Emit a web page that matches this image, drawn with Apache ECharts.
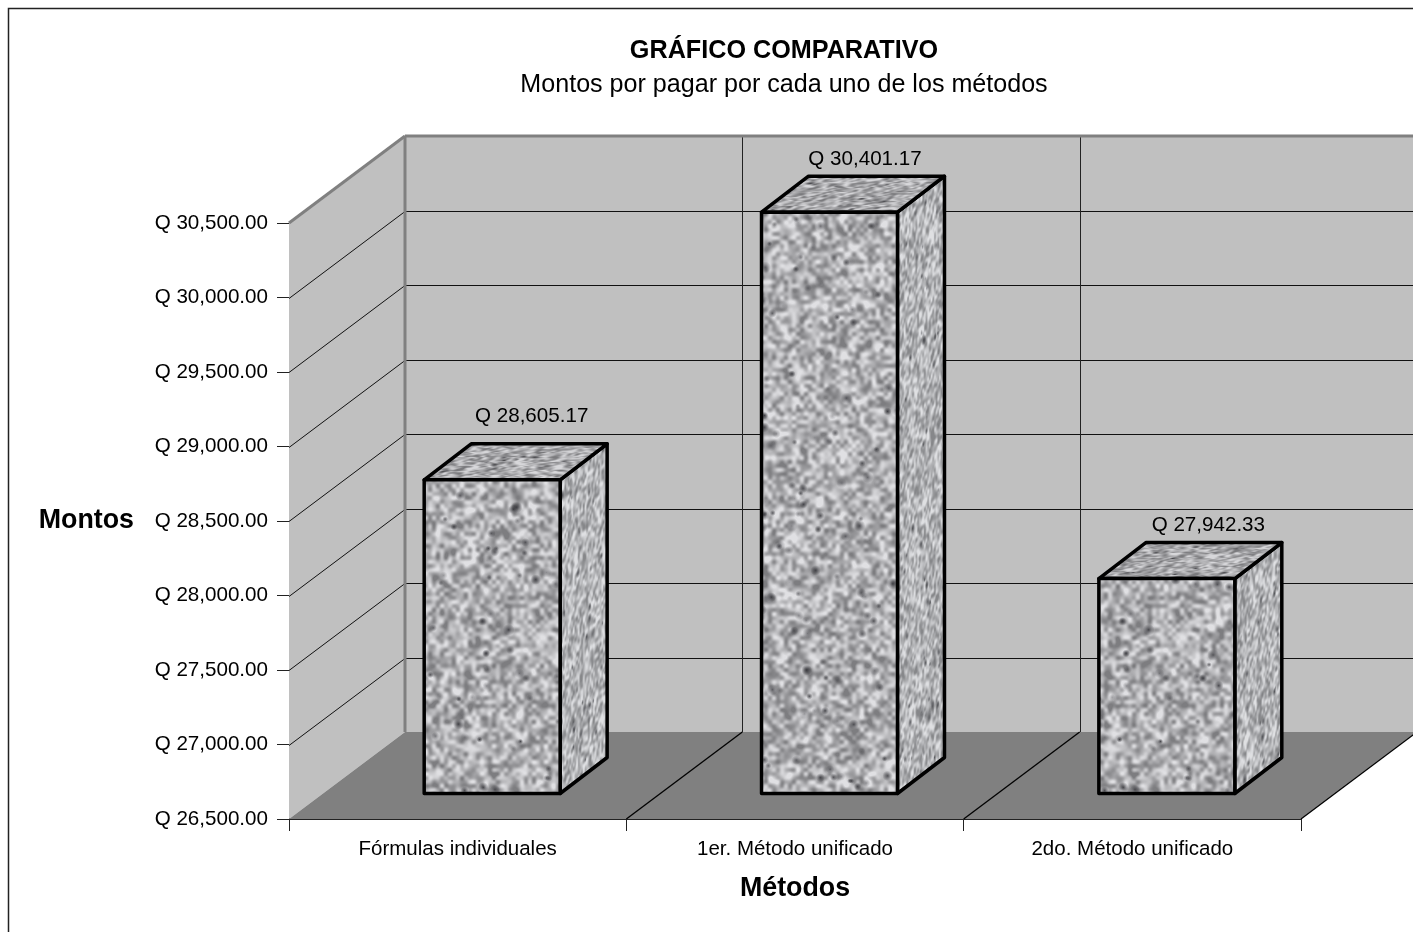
<!DOCTYPE html>
<html>
<head>
<meta charset="utf-8">
<style>html,body{margin:0;padding:0;background:#fff;overflow:hidden}#c{width:1413px;height:932px}</style>
<script src="https://cdn.jsdelivr.net/npm/echarts@6/dist/echarts.min.js"></script>
</head>
<body>
<div id="c"></div>
<script>
var categories = ['Fórmulas individuales', '1er. Método unificado', '2do. Método unificado'];
var montos = [28605.17, 30401.17, 27942.33];
var yTicks = [26500, 27000, 27500, 28000, 28500, 29000, 29500, 30000, 30500];
var titleText = 'GRÁFICO COMPARATIVO';
var subtitleText = 'Montos por pagar por cada uno de los métodos';
var yName = 'Montos';
var xName = 'Métodos';

var FONT = '"Liberation Sans", Arial, sans-serif';
var DX = 116, DY = 87;            // wall depth
var BAR_W = 0.403, BAR_DX = 47, BAR_DY = 36; // bar width (band share) and depth
var LABEL_NUDGE = [[4, -11], [0, 0], [6, 0]];

function money(v) {
  return 'Q ' + v.toLocaleString('en-US', {minimumFractionDigits: 2, maximumFractionDigits: 2});
}

/* granite texture: deterministic, seamless speckle */
var seed = 12345;
function rnd() { seed = (seed * 1664525 + 1013904223) >>> 0; return seed / 4294967296; }
function noiseLayer(target, cell, S, alpha) {
  var n = Math.round(S / cell), pad = 2, m = n + 2 * pad;
  var vals = [], i;
  for (i = 0; i < n * n; i++) vals.push(Math.floor(rnd() * 256));
  var s = document.createElement('canvas');
  s.width = s.height = m;
  var sc = s.getContext('2d'), im = sc.createImageData(m, m);
  for (var yy = 0; yy < m; yy++) {
    for (var xx = 0; xx < m; xx++) {
      var g = vals[((yy - pad + n) % n) * n + ((xx - pad + n) % n)], p = (yy * m + xx) * 4;
      im.data[p] = im.data[p + 1] = im.data[p + 2] = g;
      im.data[p + 3] = 255;
    }
  }
  sc.putImageData(im, 0, 0);
  target.globalAlpha = alpha;
  target.drawImage(s, -pad * cell, -pad * cell, m * cell, m * cell);
  target.globalAlpha = 1;
}
function buildBase() {
  var S = 640, c = document.createElement('canvas');
  c.width = c.height = S;
  var x = c.getContext('2d');
  x.imageSmoothingEnabled = true;
  x.imageSmoothingQuality = 'high';
  noiseLayer(x, 4, S, 1);
  noiseLayer(x, 8, S, 0.25);
  var im = x.getImageData(0, 0, S, S), d = im.data;
  for (var i = 0; i < d.length; i += 4) {
    var v = 176 + (d[i] - 128) * 0.62;
    v = Math.max(125, Math.min(224, v));
    d[i] = v; d[i + 1] = v; d[i + 2] = Math.min(255, v + 3);
  }
  x.putImageData(im, 0, 0);
  for (var k = 0; k < 620; k++) {
    var r = 2.5 + rnd() * 3.5, px = r + rnd() * (S - 2 * r), py = r + rnd() * (S - 2 * r), a = 0.25 + rnd() * 0.6;
    var g = x.createRadialGradient(px, py, 0, px, py, r);
    g.addColorStop(0, 'rgba(45,45,50,' + a + ')');
    g.addColorStop(1, 'rgba(45,45,50,0)');
    x.fillStyle = g;
    x.fillRect(px - r, py - r, 2 * r, 2 * r);
  }
  return c;
}
function warp(base, a, b, c2, d, tint) {
  var c = document.createElement('canvas');
  c.width = 1413; c.height = 932;
  var x = c.getContext('2d');
  x.setTransform(a, b, c2, d, 0, 0);
  x.fillStyle = x.createPattern(base, 'repeat');
  x.fillRect(-6000, -6000, 14000, 14000);
  if (tint) {
    x.setTransform(1, 0, 0, 1, 0, 0);
    x.fillStyle = tint;
    x.fillRect(0, 0, 1413, 932);
  }
  return c;
}
var base = buildBase();
var texFront = warp(base, 1, 0, 0, 1);
var texSide = warp(base, 0.42, -0.32, 0, 1, 'rgba(215,225,225,0.10)');
var texTop = warp(base, 1, 0, -0.42, 0.32, 'rgba(90,90,90,0.06)');

function poly(pts, style) {
  return {type: 'polygon', shape: {points: pts}, style: style, silent: true};
}
function line(x1, y1, x2, y2, style) {
  return {type: 'line', shape: {x1: x1, y1: y1, x2: x2, y2: y2}, style: style, silent: true};
}

function renderWalls(params, api) {
  var cs = params.coordSys, L = cs.x, T = cs.y, R = cs.x + cs.width, B = cs.y + cs.height;
  var kids = [];
  kids.push(poly([[L, T], [L + DX, T - DY], [L + DX, B - DY], [L, B]], {fill: '#c0c0c0'}));
  kids.push(poly([[L + DX, T - DY], [R + DX, T - DY], [R + DX, B - DY], [L + DX, B - DY]], {fill: '#c0c0c0'}));
  kids.push(poly([[L, B], [R, B], [R + DX, B - DY], [L + DX, B - DY]], {fill: '#808080'}));
  yTicks.forEach(function (v, i) {
    if (i === 0 || i === yTicks.length - 1) return;
    var y = Math.round(api.coord([0, v])[1]) + 0.5;
    kids.push(line(L, y, L + DX, y - DY, {stroke: '#111', lineWidth: 1}));
    kids.push(line(L + DX, y - DY, R + DX, y - DY, {stroke: '#111', lineWidth: 1}));
  });
  var band = api.size([1, 0])[0];
  for (var i = 1; i <= categories.length; i++) {
    var x = L + band * i;
    if (i < categories.length) {
      var vx = Math.round(x + DX) + 0.5;
      kids.push(line(vx, T - DY, vx, B - DY, {stroke: '#222', lineWidth: 1}));
    }
    kids.push(line(x, B, x + DX, B - DY, {stroke: '#000', lineWidth: 1.3}));
  }
  var edge = {stroke: '#808080', lineWidth: 3, lineCap: 'butt'};
  kids.push(line(L, T, L + DX, T - DY, edge));
  kids.push(line(L + DX, T - DY, R + DX, T - DY, edge));
  kids.push(line(L + DX, T - DY, L + DX, B - DY, edge));
  return {type: 'group', children: kids, silent: true};
}

function renderBar(params, api) {
  var i = api.value(0), v = api.value(1);
  var c = api.coord([i, v]), y0 = api.coord([i, yTicks[0]])[1];
  var w = api.size([1, 0])[0] * BAR_W;
  var ox = (DX - BAR_DX) / 2, oy = (DY - BAR_DY) / 2;
  var x1 = c[0] - w / 2 + ox, x2 = x1 + w, yb = y0 - oy, yt = c[1] - oy;
  function face(tex) {
    return {fill: {image: tex, repeat: 'repeat'}, stroke: '#000', lineWidth: 3.5, lineJoin: 'round'};
  }
  var nudge = LABEL_NUDGE[i];
  return {type: 'group', silent: true, children: [
    poly([[x2, yb], [x2 + BAR_DX, yb - BAR_DY], [x2 + BAR_DX, yt - BAR_DY], [x2, yt]], face(texSide)),
    poly([[x1, yt], [x2, yt], [x2 + BAR_DX, yt - BAR_DY], [x1 + BAR_DX, yt - BAR_DY]], face(texTop)),
    poly([[x1, yb], [x2, yb], [x2, yt], [x1, yt]], face(texFront)),
    {type: 'text', silent: true, style: {
      x: (x1 + x2 + BAR_DX) / 2 + 12 + nudge[0], y: yt - BAR_DY - 17 + nudge[1],
      text: money(v), fill: '#000', font: '20.6px ' + FONT, textAlign: 'center', textVerticalAlign: 'middle'
    }}
  ]};
}

var chart = echarts.init(document.getElementById('c'), null, {renderer: 'canvas', width: 1413, height: 932});
var axisLine = {show: true, lineStyle: {color: '#222', width: 1}};
chart.setOption({
  animation: false,
  backgroundColor: '#fff',
  title: [
    {text: titleText, left: 779, top: 34, textAlign: 'center', textStyle: {fontFamily: FONT, fontSize: 25.2, fontWeight: 'bold', color: '#000'}},
    {text: subtitleText, left: 779, top: 68, textAlign: 'center', textStyle: {fontFamily: FONT, fontSize: 25.1, fontWeight: 'normal', color: '#000'}}
  ],
  grid: {left: 289, right: 112, top: 223, bottom: 113, containLabel: false, outerBoundsMode: 'none'},
  xAxis: {
    type: 'category', data: categories,
    axisLine: axisLine,
    axisTick: {show: true, alignWithLabel: false, length: 12, lineStyle: {color: '#222'}},
    axisLabel: {color: '#000', fontFamily: FONT, fontSize: 20.5, margin: 20, interval: 0},
    splitLine: {show: false},
    name: xName, nameLocation: 'middle', nameGap: 56,
    nameTextStyle: {color: '#000', fontFamily: FONT, fontSize: 26.8, fontWeight: 'bold'}
  },
  yAxis: {
    type: 'value', min: yTicks[0], max: yTicks[yTicks.length - 1], interval: 500,
    axisLine: axisLine,
    axisTick: {show: true, length: 12, lineStyle: {color: '#222'}},
    axisLabel: {color: '#000', fontFamily: FONT, fontSize: 20.6, margin: 21, padding: [7, 0, 0, 0], formatter: money},
    splitLine: {show: false},
    name: yName, nameLocation: 'middle', nameRotate: 0, nameGap: 155,
    nameTextStyle: {color: '#000', fontFamily: FONT, fontSize: 26.8, fontWeight: 'bold', padding: [12, 0, 0, 0]}
  },
  graphic: [{
    type: 'rect', silent: true, z: 100,
    shape: {x: 8.5, y: 8.5, width: 1500, height: 1000},
    style: {fill: 'none', stroke: '#222', lineWidth: 1.5}
  }],
  series: [
    {type: 'custom', name: 'muros', coordinateSystem: 'cartesian2d', clip: false, z: 1, silent: true,
     renderItem: renderWalls, data: [[0, yTicks[0]]]},
    {type: 'custom', name: 'Montos', coordinateSystem: 'cartesian2d', clip: false, z: 3, silent: true,
     renderItem: renderBar,
     data: montos.map(function (v, i) { return [i, v]; })}
  ]
});
</script>
</body>
</html>
